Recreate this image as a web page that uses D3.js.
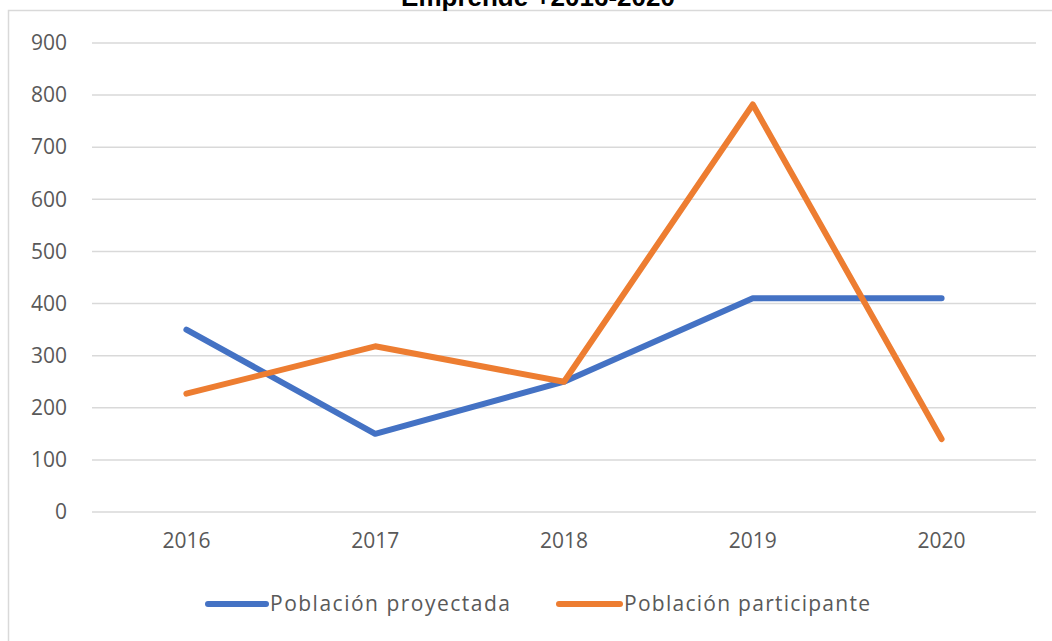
<!DOCTYPE html>
<html>
<head>
<meta charset="utf-8">
<script src="https://cdn.jsdelivr.net/npm/d3@7"></script>
<style>
  body { margin: 0; background: #fff; }
  svg { display: block; }
</style>
</head>
<body>
<div id="chart"></div>
<script>
const width = 1052;
const height = 641;

// data
const years = ["2016", "2017", "2018", "2019", "2020"];
const proyectada = [350, 150, 250, 410, 410];
const participante = [227, 318, 250, 782, 140];
const yTicks = [0, 100, 200, 300, 400, 500, 600, 700, 800, 900];
const seriesNames = ["Población proyectada", "Población participante"];
const colors = ["#4472C4", "#ED7D31"];

const svg = d3.select("#chart").append("svg")
    .attr("width", width)
    .attr("height", height);

// chart frame (only top and left edges are visible)
svg.append("path")
    .attr("d", `M8.5,${height + 5} V10.5 H${width + 5}`)
    .attr("fill", "none")
    .attr("stroke", "#d9d9d9")
    .attr("stroke-width", 1.5);

// title, mostly cut off by the top of the page as in the original
svg.append("text")
    .attr("x", 538)
    .attr("y", 6)
    .attr("text-anchor", "middle")
    .style("font-family", "Liberation Sans, Arial, sans-serif")
    .style("font-weight", "bold")
    .style("font-size", "26px")
    .attr("fill", "#000")
    .text("Emprende +2016-2020");

const x = d3.scaleBand()
    .domain(years)
    .range([92, 1036]);

const y = d3.scaleLinear()
    .domain([0, 900])
    .range([512, 43]);

// gridlines
svg.append("g")
    .selectAll("line")
    .data(yTicks)
    .enter()
    .append("line")
    .attr("x1", 92)
    .attr("x2", 1036)
    .attr("y1", d => y(d))
    .attr("y2", d => y(d))
    .attr("stroke", "#d9d9d9")
    .attr("stroke-width", 1.5);

// y axis labels
const yAxis = svg.append("g")
    .attr("transform", "translate(67,0)")
    .call(d3.axisLeft(y).tickValues(yTicks).tickSize(0).tickPadding(0));
yAxis.select(".domain").remove();
yAxis.selectAll("text")
    .style("font-family", "Open Sans, sans-serif")
    .style("font-size", "21px")
    .attr("fill", "#595959");

// x axis labels
const xAxis = svg.append("g")
    .attr("transform", "translate(0,533)")
    .call(d3.axisBottom(x).tickSize(0).tickPadding(0));
xAxis.select(".domain").remove();
xAxis.selectAll("text")
    .style("font-family", "Open Sans, sans-serif")
    .style("font-size", "21px")
    .attr("fill", "#595959");

const line = d3.line()
    .x((d, i) => x(years[i]) + x.bandwidth() / 2)
    .y(d => y(d));

[proyectada, participante].forEach((values, i) => {
    svg.append("path")
        .datum(values)
        .attr("d", line)
        .attr("fill", "none")
        .attr("stroke", colors[i])
        .attr("stroke-width", 6)
        .attr("stroke-linejoin", "round")
        .attr("stroke-linecap", "round");
});

// legend
const legendItems = [
    { x1: 208, x2: 266, tx: 270, tw: 240 },
    { x1: 559, x2: 620, tx: 624, tw: 246 }
];
legendItems.forEach((item, i) => {
    svg.append("line")
        .attr("x1", item.x1)
        .attr("x2", item.x2)
        .attr("y1", 604)
        .attr("y2", 604)
        .attr("stroke", colors[i])
        .attr("stroke-width", 6)
        .attr("stroke-linecap", "round");
    svg.append("text")
        .attr("x", item.tx)
        .attr("y", 611)
        .attr("textLength", item.tw)
        .attr("lengthAdjust", "spacing")
        .style("font-family", "Open Sans, sans-serif")
        .style("font-size", "21px")
        .attr("fill", "#595959")
        .text(seriesNames[i]);
});
</script>
</body>
</html>
